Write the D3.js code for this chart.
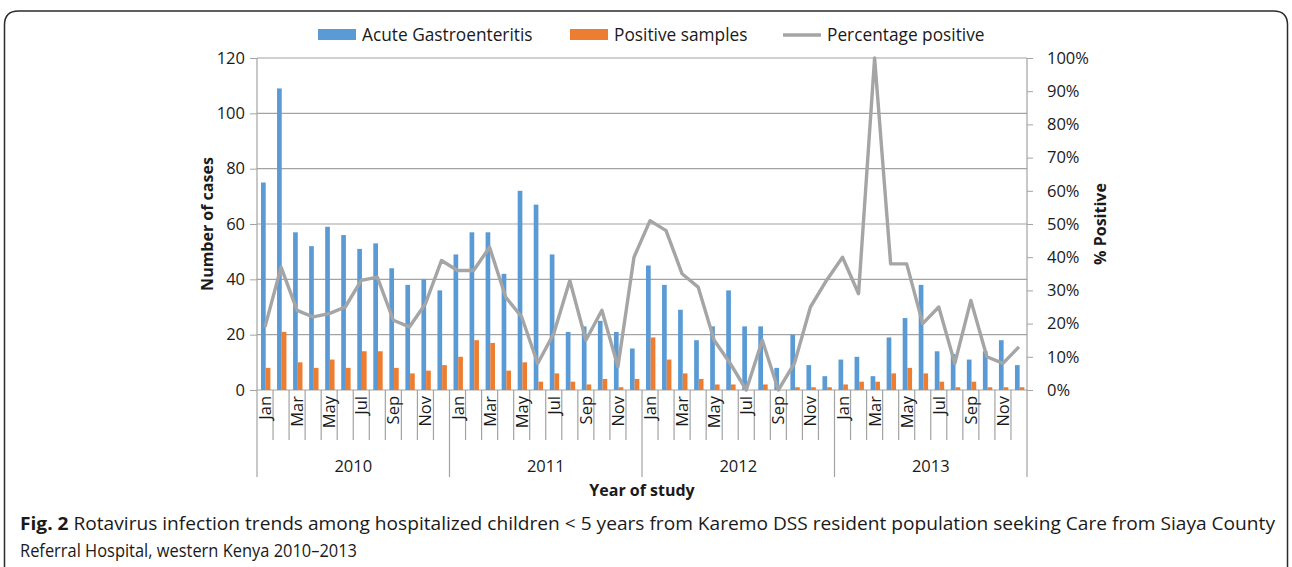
<!DOCTYPE html>
<html>
<head>
<meta charset="utf-8">
<script src="https://cdn.jsdelivr.net/npm/d3@7"></script>
<style>
  body { margin: 0; background: #fff; }
  svg text { font-family: "Open Sans", "Noto Sans", sans-serif; fill: #1a1a1a; }
</style>
</head>
<body>
<div id="chart"></div>
<script>
var years = ["2010", "2011", "2012", "2013"];
var months = ["Jan", "Feb", "Mar", "Apr", "May", "Jun", "Jul", "Aug", "Sep", "Oct", "Nov", "Dec"];

// Acute Gastroenteritis cases per month, 2010-2013
var gastro = [75, 109, 57, 52, 59, 56, 51, 53, 44, 38, 40, 36,
              49, 57, 57, 42, 72, 67, 49, 21, 23, 25, 21, 15,
              45, 38, 29, 18, 23, 36, 23, 23, 8, 20, 9, 5,
              11, 12, 5, 19, 26, 38, 14, 13, 11, 14, 18, 9];
// Positive samples
var positive = [8, 21, 10, 8, 11, 8, 14, 14, 8, 6, 7, 9,
                12, 18, 17, 7, 10, 3, 6, 3, 2, 4, 1, 4,
                19, 11, 6, 4, 2, 2, 0, 2, 0, 1, 1, 1,
                2, 3, 3, 6, 8, 6, 3, 1, 3, 1, 1, 1];
// Percentage positive (%)
var pctPositive = [19, 37, 24, 22, 23, 25, 33, 34, 21, 19, 26, 39,
                   36, 36, 43, 28, 22, 8, 17, 33, 15, 24, 7, 40,
                   51, 48, 35, 31, 15, 8, 0, 15, 0, 8, 25, 33,
                   40, 29, 100, 38, 38, 20, 25, 8, 27, 10, 8, 13];

var leftTicks = [0, 20, 40, 60, 80, 100, 120];
var rightTicks = [0, 0.1, 0.2, 0.3, 0.4, 0.5, 0.6, 0.7, 0.8, 0.9, 1];
var seriesNames = ["Acute Gastroenteritis", "Positive samples", "Percentage positive"];
var colors = ["#5b9bd5", "#ed7d31", "#a5a5a5"];

var W = 1292, H = 567;
var plot = {left: 257, right: 1027, top: 58, bottom: 390};

var keys = [];
years.forEach(function(y) { months.forEach(function(m) { keys.push(y + "-" + m); }); });

var svg = d3.select("#chart").append("svg")
    .attr("width", W).attr("height", H);

// frame with rounded top corners
var fr = {l: 4.5, t: 11, r: 1287.5, rad: 14};
svg.append("path")
    .attr("d", "M" + fr.l + "," + H + " L" + fr.l + "," + (fr.t + fr.rad) +
               " Q" + fr.l + "," + fr.t + " " + (fr.l + fr.rad) + "," + fr.t +
               " L" + (fr.r - fr.rad) + "," + fr.t +
               " Q" + fr.r + "," + fr.t + " " + fr.r + "," + (fr.t + fr.rad) +
               " L" + fr.r + "," + H)
    .attr("fill", "none").attr("stroke", "#2b2b2b").attr("stroke-width", 1.5);

var x0 = d3.scaleBand().domain(keys).range([plot.left, plot.right]).padding(0);
var bw = x0.bandwidth();
var x1 = d3.scaleBand().domain(["g", "p"]).range([0.25 * bw, 0.835 * bw]).padding(0);
var yL = d3.scaleLinear().domain([0, 120]).range([plot.bottom, plot.top]);
var yR = d3.scaleLinear().domain([0, 1]).range([plot.bottom, plot.top]);

// gridlines
svg.append("g").selectAll("line")
    .data(leftTicks.slice(1))
    .enter().append("line")
    .attr("x1", plot.left).attr("x2", plot.right)
    .attr("y1", function(d) { return yL(d); })
    .attr("y2", function(d) { return yL(d); })
    .attr("stroke", "#a3a3a3").attr("stroke-width", 1.2);

// left axis
var gL = svg.append("g")
    .attr("transform", "translate(" + plot.left + ",0)")
    .call(d3.axisLeft(yL).tickValues(leftTicks).tickSize(7).tickSizeOuter(0).tickPadding(5));
gL.select(".domain").remove();
gL.selectAll(".tick line").attr("stroke", "#a3a3a3");
gL.selectAll(".tick text").style("font-size", "16.5px").attr("fill", "#1a1a1a");

// right axis
var gR = svg.append("g")
    .attr("transform", "translate(" + plot.right + ",0)")
    .call(d3.axisRight(yR).tickValues(rightTicks).tickFormat(d3.format(".0%"))
          .tickSize(6).tickSizeOuter(0).tickPadding(14));
gR.select(".domain").remove();
gR.selectAll(".tick line").attr("stroke", "#a3a3a3");
gR.selectAll(".tick text").style("font-size", "16.5px").attr("fill", "#1a1a1a");

// vertical axis lines (extend down as year separators)
var yearBottom = 477, monthBottom = 440;
[plot.left, plot.right].forEach(function(xv) {
  svg.append("line").attr("x1", xv).attr("x2", xv)
      .attr("y1", plot.top).attr("y2", yearBottom)
      .attr("stroke", "#a3a3a3").attr("stroke-width", 1.2);
});
svg.append("line").attr("x1", plot.left).attr("x2", plot.right)
    .attr("y1", plot.bottom).attr("y2", plot.bottom)
    .attr("stroke", "#a3a3a3").attr("stroke-width", 1.2);

// month separators and year separators
svg.append("g").selectAll("line")
    .data(keys.slice(1))
    .enter().append("line")
    .attr("x1", function(k) { return x0(k); })
    .attr("x2", function(k) { return x0(k); })
    .attr("y1", plot.bottom)
    .attr("y2", function(k, i) { return (i + 1) % 12 === 0 ? yearBottom : monthBottom; })
    .attr("stroke", "#a3a3a3").attr("stroke-width", 1.2);

// bars
var bars = svg.append("g");
bars.selectAll("rect.g")
    .data(gastro)
    .enter().append("rect")
    .attr("class", "g")
    .attr("x", function(d, i) { return x0(keys[i]) + x1("g"); })
    .attr("y", function(d) { return yL(d); })
    .attr("width", x1.bandwidth())
    .attr("height", function(d) { return yL(0) - yL(d); })
    .attr("fill", colors[0]);
bars.selectAll("rect.p")
    .data(positive)
    .enter().append("rect")
    .attr("class", "p")
    .attr("x", function(d, i) { return x0(keys[i]) + x1("p"); })
    .attr("y", function(d) { return yL(d); })
    .attr("width", x1.bandwidth())
    .attr("height", function(d) { return yL(0) - yL(d); })
    .attr("fill", colors[1]);

// percentage line
var line = d3.line()
    .x(function(d, i) { return x0(keys[i]) + bw / 2; })
    .y(function(d) { return yR(d / 100); });
svg.append("path")
    .datum(pctPositive)
    .attr("d", line)
    .attr("fill", "none")
    .attr("stroke", colors[2])
    .attr("stroke-width", 3.4)
    .attr("stroke-linejoin", "round");

// month labels (every other month)
svg.append("g").selectAll("text")
    .data(keys.filter(function(k, i) { return i % 2 === 0; }))
    .enter().append("text")
    .attr("transform", function(k) {
      return "translate(" + (x0(k) + bw / 2 + 6) + "," + (plot.bottom + 6) + ") rotate(-90)";
    })
    .attr("text-anchor", "end")
    .style("font-size", "16.5px")
    .text(function(k) { return k.split("-")[1]; });

// year labels
svg.append("g").selectAll("text")
    .data(years)
    .enter().append("text")
    .attr("x", function(y) { return (x0(y + "-Jan") + x0(y + "-Dec") + bw) / 2; })
    .attr("y", 472)
    .attr("text-anchor", "middle")
    .style("font-size", "16.5px")
    .text(function(y) { return y; });

// axis titles
svg.append("text")
    .attr("x", (plot.left + plot.right) / 2).attr("y", 496)
    .attr("text-anchor", "middle")
    .style("font-size", "16px").style("font-weight", "bold")
    .text("Year of study");
svg.append("text")
    .attr("transform", "translate(213," + ((plot.top + plot.bottom) / 2) + ") rotate(-90)")
    .attr("text-anchor", "middle")
    .style("font-size", "16px").style("font-weight", "bold")
    .text("Number of cases");
svg.append("text")
    .attr("transform", "translate(1106," + ((plot.top + plot.bottom) / 2) + ") rotate(-90)")
    .attr("text-anchor", "middle")
    .style("font-size", "16px").style("font-weight", "bold")
    .text("% Positive");

// legend
var legendX = [318, 570, 783];
var leg = svg.append("g");
seriesNames.forEach(function(name, i) {
  var g = leg.append("g").attr("transform", "translate(" + legendX[i] + ",35)");
  if (i < 2) {
    g.append("rect").attr("x", 0).attr("y", -6).attr("width", 38).attr("height", 11)
        .attr("fill", colors[i]);
  } else {
    g.append("line").attr("x1", 0).attr("x2", 38).attr("y1", 0).attr("y2", 0)
        .attr("stroke", colors[i]).attr("stroke-width", 3.4);
  }
  g.append("text").attr("x", 44).attr("y", 6)
      .style("font-size", "17.3px")
      .text(name);
});

// caption
var cap1 = svg.append("text").attr("x", 20).attr("y", 530)
    .style("font-size", "18px").attr("textLength", 1255).attr("lengthAdjust", "spacingAndGlyphs");
cap1.append("tspan").style("font-weight", "bold").text("Fig. 2");
cap1.append("tspan").text(" Rotavirus infection trends among hospitalized children < 5 years from Karemo DSS resident population seeking Care from Siaya County");
svg.append("text").attr("x", 20).attr("y", 557)
    .style("font-size", "18px").attr("textLength", 337).attr("lengthAdjust", "spacingAndGlyphs")
    .text("Referral Hospital, western Kenya 2010\u20132013");
</script>
</body>
</html>
